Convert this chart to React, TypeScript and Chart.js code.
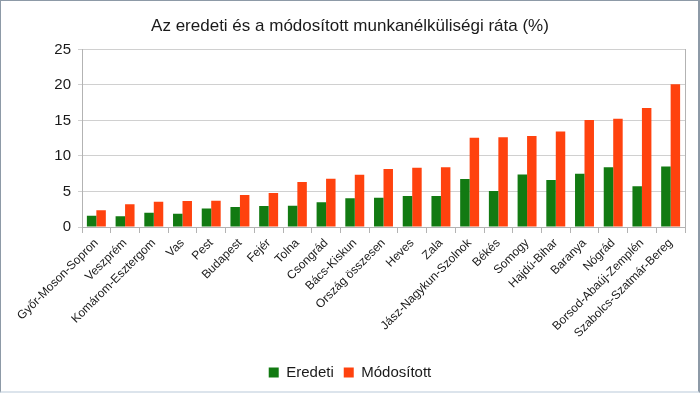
import React, { useEffect, useRef } from "react";
import { Chart, registerables } from "chart.js";

Chart.register(...registerables);

const categories = [
  "Győr-Moson-Sopron", "Veszprém", "Komárom-Esztergom", "Vas", "Pest", "Budapest", "Fejér", "Tolna",
  "Csongrád", "Bács-Kiskun", "Ország összesen", "Heves", "Zala", "Jász-Nagykun-Szolnok", "Békés",
  "Somogy", "Hajdú-Bihar", "Baranya", "Nógrád", "Borsod-Abaúj-Zemplén", "Szabolcs-Szatmár-Bereg",
];
const eredeti = [1.6, 1.5, 2.0, 1.85, 2.6, 2.8, 2.95, 3.0, 3.5, 4.05, 4.1, 4.35, 4.35, 6.75, 5.05, 7.4, 6.6, 7.5, 8.4, 5.75, 8.5];
const modositott = [2.35, 3.2, 3.55, 3.65, 3.7, 4.5, 4.8, 6.35, 6.8, 7.35, 8.15, 8.35, 8.4, 12.55, 12.65, 12.8, 13.45, 15.05, 15.25, 16.75, 20.1];
const yTicks = [0, 5, 10, 15, 20, 25];
const chartTitle = "Az eredeti és a módosított munkanélküliségi ráta (%)";
const seriesNames = ["Eredeti", "Módosított"];

const FONT = "'Liberation Sans', Arial, sans-serif";

export default function App() {
  const ref = useRef<HTMLCanvasElement | null>(null);
  useEffect(() => {
    if (!ref.current) return;
    const chart = new Chart(ref.current, {
      type: "bar",
      data: {
        labels: categories,
        datasets: [
          { label: seriesNames[0], data: eredeti, backgroundColor: "#127a12", categoryPercentage: 0.66, barPercentage: 1.0 },
          { label: seriesNames[1], data: modositott, backgroundColor: "#ff420e", categoryPercentage: 0.66, barPercentage: 1.0 },
        ],
      },
      options: {
        animation: false,
        responsive: false,
        devicePixelRatio: 1,
        layout: { padding: { top: 0, right: 0, bottom: 4, left: 0 } },
        plugins: {
          title: {
            display: true,
            text: chartTitle,
            color: "#1a1a1a",
            font: { family: FONT, size: 17, weight: "normal" },
            padding: { top: 16, bottom: 13 },
          },
          legend: {
            position: "bottom",
            labels: {
              color: "#1a1a1a",
              font: { family: FONT, size: 15 },
              boxWidth: 10,
              boxHeight: 10,
              padding: 10,
            },
          },
          tooltip: { enabled: false },
        },
        scales: {
          x: {
            offset: true,
            grid: { display: true, drawOnChartArea: false, drawTicks: true, tickLength: 6, color: "#b3b3b3", offset: true },
            border: { display: true, color: "#b3b3b3" },
            ticks: {
              autoSkip: false,
              minRotation: 45,
              maxRotation: 45,
              padding: 3,
              color: "#1a1a1a",
              font: { family: FONT, size: 12 },
            },
            afterFit: (s: any) => { s.height = 128; },
          },
          y: {
            min: 0,
            max: 25,
            afterBuildTicks: (s: any) => { s.ticks = yTicks.map((v) => ({ value: v })); },
            grid: { color: "#d0d0d0", tickLength: 4, drawTicks: true },
            border: { display: true, color: "#b3b3b3" },
            ticks: { padding: 7, color: "#1a1a1a", font: { family: FONT, size: 15 } },
            afterFit: (s: any) => { s.width = 82; },
          },
          y2: {
            position: "right",
            min: 0,
            max: 25,
            grid: { display: false },
            ticks: { display: false },
            border: { display: true, color: "#b3b3b3" },
            afterFit: (s: any) => { s.width = 15; },
          },
        },
      },
    });
    return () => chart.destroy();
  }, []);
  return (
    <div style={{ position: "absolute", left: 0, top: 0, width: 700, height: 394, background: "#fff" }}>
      <canvas ref={ref} width={700} height={394} style={{ position: "absolute", left: 0, top: 0 }} />
      <div
        style={{
          position: "absolute",
          left: 0,
          top: 0,
          width: 700,
          height: 393,
          boxSizing: "border-box",
          borderLeft: "1px solid #8d9aa7",
          borderTop: "1px solid #8d9aa7",
          borderRight: "2px solid #8d9aa7",
          borderBottom: "2px solid #dce4ec",
          pointerEvents: "none",
        }}
      />
    </div>
  );
}
